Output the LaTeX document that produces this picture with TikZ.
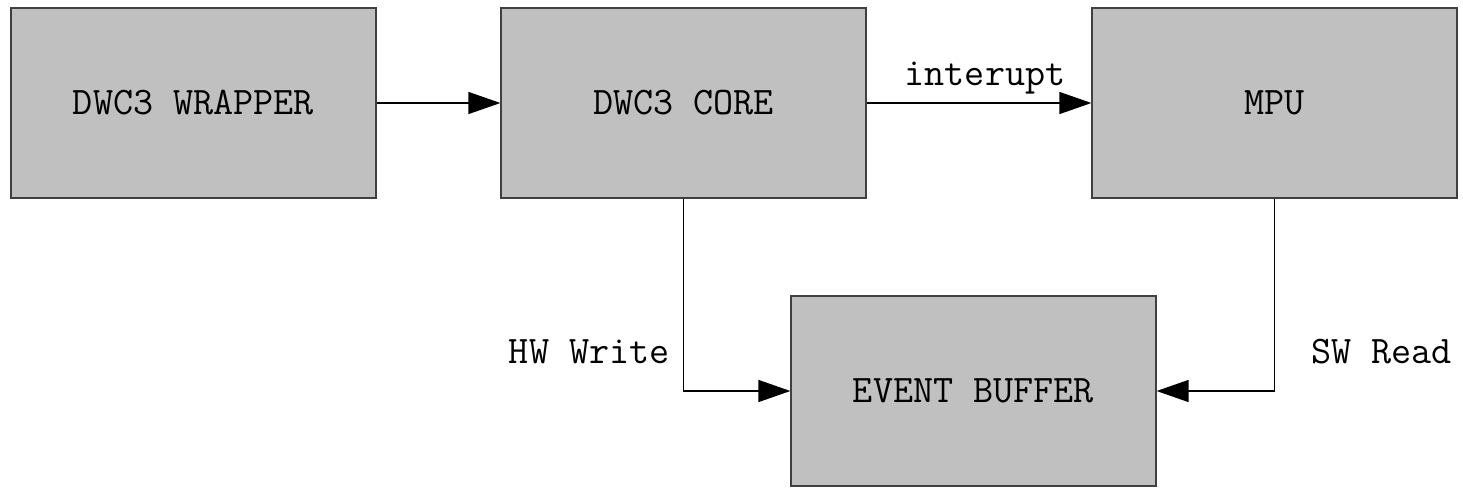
\documentclass[tikz,border=0pt]{standalone}
\usetikzlibrary{arrows.meta}
\definecolor{boxgray}{HTML}{C0C0C0}
\tikzset{
  blockbox/.style={draw=black!75, line width=0.6pt, fill=boxgray, minimum width=182.5pt, minimum height=95pt, font=\ttfamily\fontsize{19.5}{22}\selectfont},
  flow/.style={line width=0.65pt, -{Triangle[length=16pt, width=11pt]}},
  lbl/.style={font=\ttfamily\fontsize{19.5}{22}\selectfont, inner sep=0pt}
}
\begin{document}
\begin{tikzpicture}[x=0.5pt, y=-0.5pt]
\useasboundingbox (0,0) rectangle (1463,488);
\node[blockbox] (wrapper) at (193.5,103){DWC3 WRAPPER};
\node[blockbox] (core) at (683.5,103){DWC3 CORE};
\node[blockbox] (mpu) at (1274.5,103){MPU};
\node[blockbox] (evbuf) at (973.5,391){EVENT BUFFER};
\draw[flow](wrapper) -- (core);
\draw[flow](core) -- (mpu);
\node[lbl] (intr) at (985,78){interupt};
\draw[flow](core.south) |- (evbuf.west);
\node[lbl, anchor=east] (hwwr) at (670,352){HW Write};
\draw[flow](mpu.south) |- (evbuf.east);
\node[lbl, anchor=west] (swrd) at (1311,352){SW Read};
\end{tikzpicture}
\end{document}
